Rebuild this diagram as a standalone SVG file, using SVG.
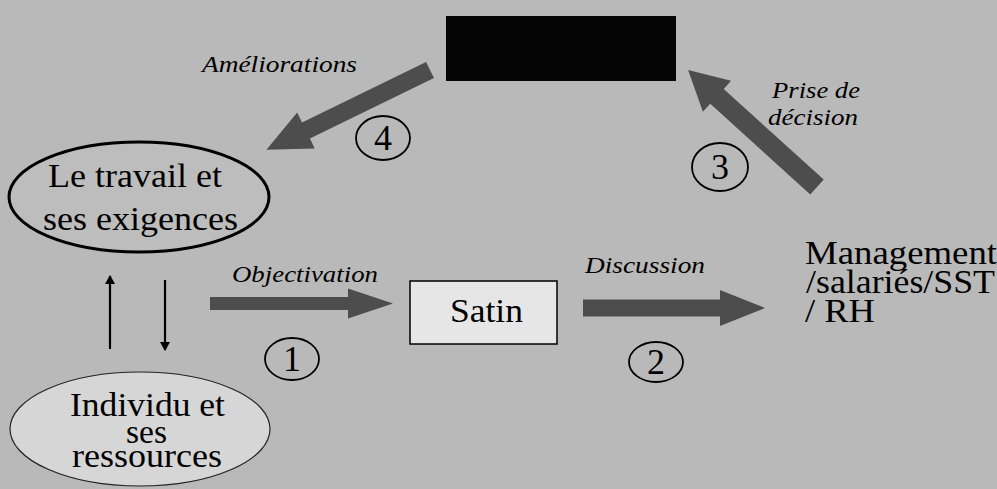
<svg xmlns="http://www.w3.org/2000/svg" width="997" height="489" viewBox="0 0 997 489" font-family="Liberation Serif">
<defs>
<marker id="ah" markerWidth="9" markerHeight="10" refX="8" refY="5" orient="auto" markerUnits="userSpaceOnUse" viewBox="0 0 9 10">
<path d="M0,0 L9,5 L0,10 Z" fill="#000"/>
</marker>
</defs>
<rect x="0" y="0" width="997" height="489" fill="#b9b9b9"/>

<g id="node-top">
<rect x="446" y="16" width="230" height="65" fill="#050505"/>
</g>

<g id="node-travail">
<ellipse cx="139" cy="197" rx="130" ry="55" fill="#bdbdbd" stroke="#000" stroke-width="3"/>
<text font-family="Liberation Serif" font-size="34" fill="#000" x="48" y="187" textLength="174" lengthAdjust="spacingAndGlyphs"><tspan font-family="Liberation Serif" style="font-family:'Liberation Serif',serif">Le travail et</tspan></text>
<text font-family="Liberation Serif" font-size="34" fill="#000" x="43" y="230" textLength="195" lengthAdjust="spacingAndGlyphs"><tspan font-family="Liberation Serif" style="font-family:'Liberation Serif',serif">ses exigences</tspan></text>
</g>

<g id="node-individu">
<ellipse cx="140" cy="429" rx="130" ry="57" fill="#d6d6d6" stroke="#222" stroke-width="1.2"/>
<text font-family="Liberation Serif" font-size="34" fill="#000" x="70" y="416" textLength="155" lengthAdjust="spacingAndGlyphs"><tspan font-family="Liberation Serif" style="font-family:'Liberation Serif',serif">Individu et</tspan></text>
<text font-family="Liberation Serif" font-size="34" fill="#000" x="126" y="443" textLength="41" lengthAdjust="spacingAndGlyphs"><tspan font-family="Liberation Serif" style="font-family:'Liberation Serif',serif">ses</tspan></text>
<text font-family="Liberation Serif" font-size="34" fill="#000" x="72" y="467" textLength="150" lengthAdjust="spacingAndGlyphs"><tspan font-family="Liberation Serif" style="font-family:'Liberation Serif',serif">ressources</tspan></text>
</g>

<g id="node-satin">
<rect x="410" y="281" width="147" height="63" fill="#e6e6e6" stroke="#000" stroke-width="1.5"/>
<text font-family="Liberation Serif" font-size="34" fill="#000" x="450" y="322" textLength="73" lengthAdjust="spacingAndGlyphs"><tspan font-family="Liberation Serif" style="font-family:'Liberation Serif',serif">Satin</tspan></text>
</g>

<g id="node-management">
<text font-family="Liberation Serif" font-size="34" fill="#000" x="805" y="264" textLength="192" lengthAdjust="spacingAndGlyphs"><tspan font-family="Liberation Serif" style="font-family:'Liberation Serif',serif">Management</tspan></text>
<text font-family="Liberation Serif" font-size="34" fill="#000" x="806" y="293" textLength="189" lengthAdjust="spacingAndGlyphs"><tspan font-family="Liberation Serif" style="font-family:'Liberation Serif',serif">/salariés/SST</tspan></text>
<text font-family="Liberation Serif" font-size="34" fill="#000" x="805" y="322" textLength="70" lengthAdjust="spacingAndGlyphs"><tspan font-family="Liberation Serif" style="font-family:'Liberation Serif',serif">/ RH</tspan></text>
</g>

<g id="connectors" fill="#4d4d4d">
<polygon transform="translate(210,303.5)" points="0,-6.5 138,-6.5 138,-15 183,0 138,15 138,6.5 0,6.5"/>
<polygon transform="translate(583,308)" points="0,-8.5 137,-8.5 137,-18 182,0 137,18 137,8.5 0,8.5"/>
<polygon transform="translate(817,187) rotate(-137.8)" points="0,-10 135,-10 135,-21 174,0 135,21 135,10 0,10"/>
<polygon transform="translate(430,70) rotate(154)" points="0,-9 138,-9 138,-20 182,0 138,20 138,9 0,9"/>
<line x1="110" y1="349" x2="110" y2="276" stroke="#000" stroke-width="2.2" marker-end="url(#ah)"/>
<line x1="165" y1="280" x2="165" y2="350" stroke="#000" stroke-width="2.2" marker-end="url(#ah)"/>
</g>

<g id="labels">
<text font-family="Liberation Serif" font-size="23" font-style="italic" fill="#000" x="202" y="72" textLength="155" lengthAdjust="spacingAndGlyphs"><tspan font-family="Liberation Serif" style="font-family:'Liberation Serif',serif">Améliorations</tspan></text>
<text font-family="Liberation Serif" font-size="23" font-style="italic" fill="#000" x="772" y="98" textLength="88" lengthAdjust="spacingAndGlyphs"><tspan font-family="Liberation Serif" style="font-family:'Liberation Serif',serif">Prise de</tspan></text>
<text font-family="Liberation Serif" font-size="23" font-style="italic" fill="#000" x="768" y="125" textLength="90" lengthAdjust="spacingAndGlyphs"><tspan font-family="Liberation Serif" style="font-family:'Liberation Serif',serif">décision</tspan></text>
<text font-family="Liberation Serif" font-size="23" font-style="italic" fill="#000" x="232" y="282" textLength="146" lengthAdjust="spacingAndGlyphs"><tspan font-family="Liberation Serif" style="font-family:'Liberation Serif',serif">Objectivation</tspan></text>
<text font-family="Liberation Serif" font-size="23" font-style="italic" fill="#000" x="585" y="273" textLength="120" lengthAdjust="spacingAndGlyphs"><tspan font-family="Liberation Serif" style="font-family:'Liberation Serif',serif">Discussion</tspan></text>
</g>

<g id="step-numbers">
<ellipse cx="292" cy="359" rx="27" ry="21" fill="none" stroke="#000" stroke-width="1.8"/>
<text font-family="Liberation Serif" font-size="36" fill="#000" x="292" y="371" text-anchor="middle"><tspan font-family="Liberation Serif" style="font-family:'Liberation Serif',serif">1</tspan></text>
<ellipse cx="656" cy="362" rx="27" ry="20" fill="none" stroke="#000" stroke-width="1.8"/>
<text font-family="Liberation Serif" font-size="36" fill="#000" x="656" y="374" text-anchor="middle"><tspan font-family="Liberation Serif" style="font-family:'Liberation Serif',serif">2</tspan></text>
<ellipse cx="720" cy="167" rx="28" ry="24" fill="none" stroke="#000" stroke-width="1.8"/>
<text font-family="Liberation Serif" font-size="36" fill="#000" x="720" y="179" text-anchor="middle"><tspan font-family="Liberation Serif" style="font-family:'Liberation Serif',serif">3</tspan></text>
<ellipse cx="383" cy="138" rx="27" ry="22" fill="none" stroke="#000" stroke-width="1.8"/>
<text font-family="Liberation Serif" font-size="36" fill="#000" x="383" y="150" text-anchor="middle"><tspan font-family="Liberation Serif" style="font-family:'Liberation Serif',serif">4</tspan></text>
</g>
</svg>
